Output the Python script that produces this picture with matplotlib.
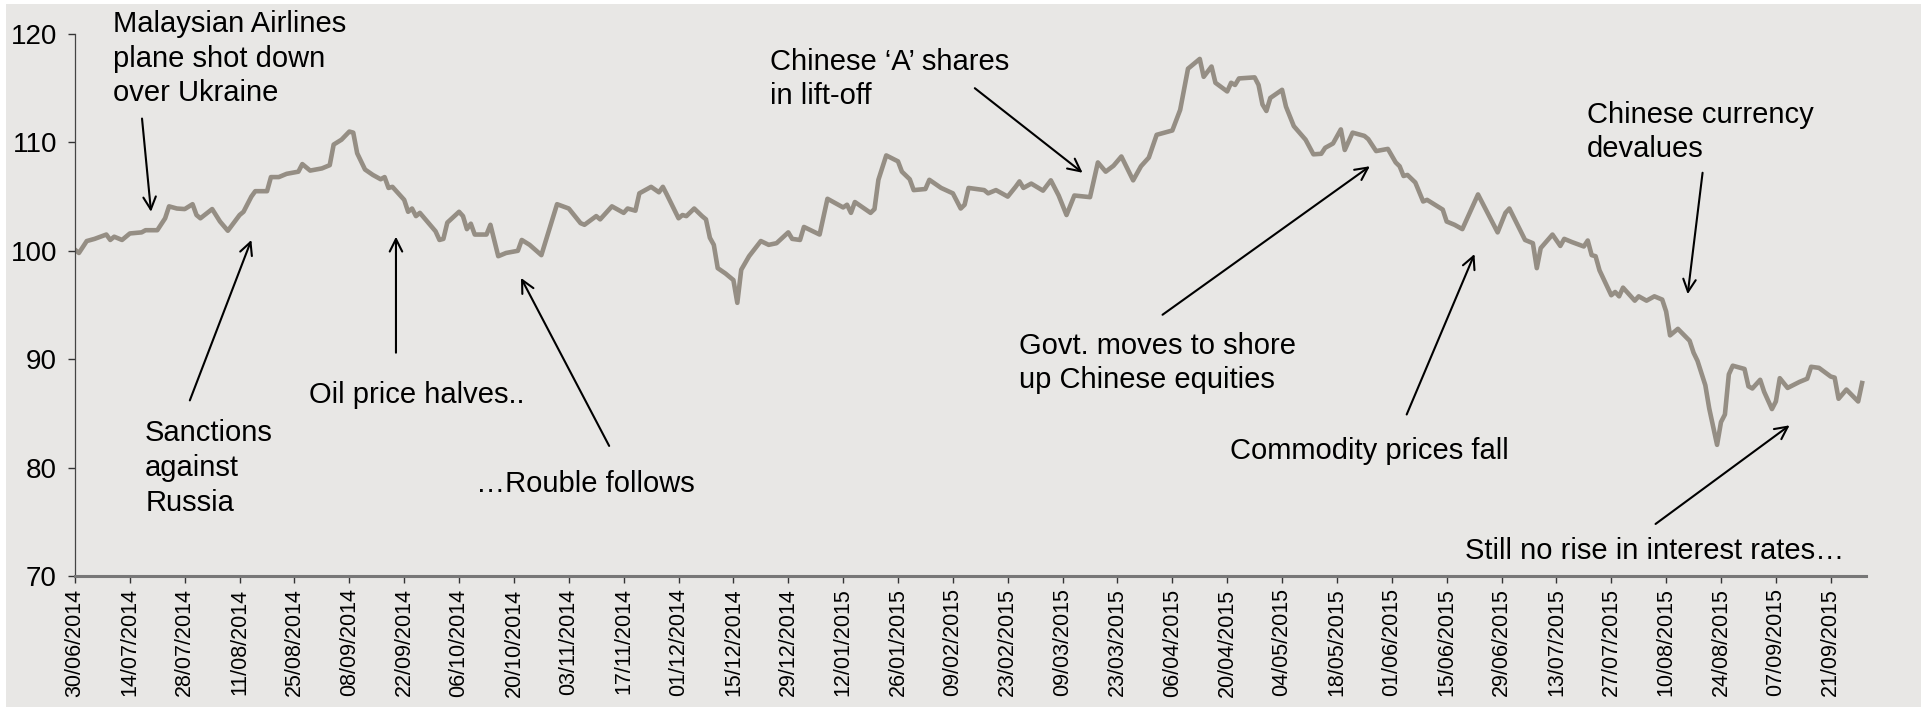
import matplotlib
matplotlib.use("Agg")
import matplotlib.pyplot as plt
import matplotlib.dates as mdates
from matplotlib.patches import Rectangle
import pandas as pd

# index level, as days since 30/06/2014
start = pd.Timestamp("2014-06-30")
days = [0, 1, 3, 5, 8, 9, 10, 12, 14, 17, 18, 21, 23, 24, 26, 28, 30, 31, 32, 35,
        37, 39, 42, 43, 45, 46, 49, 50, 52, 54, 57, 58, 60, 63, 65, 66, 68, 70, 71, 72,
        74, 76, 78, 79, 80, 81, 84, 85, 86, 87, 88, 92, 93, 94, 95, 98, 99, 100, 101, 102,
        105, 106, 108, 110, 113, 114, 116, 119, 123, 126, 129, 130, 133, 134, 137, 140, 141, 143, 144, 147,
        149, 150, 151, 154, 155, 156, 158, 160, 161, 162, 163, 164, 166, 168, 169, 170, 172, 175, 177, 179,
        182, 183, 185, 186, 190, 192, 196, 197, 198, 199, 203, 204, 205, 207, 210, 211, 213, 214, 217, 218,
        221, 224, 226, 227, 228, 232, 233, 235, 238, 240, 241, 242, 244, 247, 249, 251, 253, 255, 259, 261,
        263, 265, 267, 270, 272, 274, 276, 280, 282, 284, 287, 288, 290, 291, 294, 295, 296, 297, 301, 302,
        303, 304, 305, 308, 309, 311, 314, 316, 318, 319, 321, 323, 324, 326, 329, 330, 332, 335, 337, 338,
        339, 340, 342, 344, 345, 349, 350, 352, 354, 358, 363, 365, 366, 370, 372, 373, 374, 377, 379, 380,
        382, 385, 386, 387, 388, 389, 392, 393, 394, 395, 398, 399, 401, 403, 405, 406, 407, 409, 412, 413,
        414, 416, 417, 419, 420, 421, 422, 423, 426, 427, 428, 430, 431, 433, 434, 435, 437, 440, 442, 443,
        445, 448, 449, 450, 452, 455, 456]
values = [100.1, 99.8, 100.9, 101.1, 101.5, 101.0, 101.3, 101.0, 101.6, 101.7, 101.9, 101.9, 103.0, 104.1, 103.9, 103.85, 104.3, 103.3, 103.0, 103.85,
          102.7, 101.85, 103.3, 103.6, 105.0, 105.5, 105.5, 106.8, 106.8, 107.1, 107.3, 108.0, 107.4, 107.6, 107.9, 109.8, 110.25, 111.0, 110.9, 109.0,
          107.5, 107.0, 106.6, 106.8, 105.8, 105.9, 104.7, 103.6, 103.9, 103.2, 103.5, 101.8, 101.0, 101.1, 102.6, 103.6, 103.2, 102.0, 102.5, 101.5,
          101.5, 102.4, 99.5, 99.8, 100.0, 101.0, 100.55, 99.6, 104.3, 103.9, 102.55, 102.4, 103.2, 102.9, 104.1, 103.5, 103.9, 103.7, 105.3, 105.9,
          105.4, 105.9, 105.2, 103.0, 103.3, 103.2, 103.9, 103.2, 102.9, 101.2, 100.55, 98.4, 97.9, 97.3, 95.2, 98.25, 99.5, 100.9, 100.55, 100.7,
          101.7, 101.1, 101.0, 102.2, 101.5, 104.8, 104.0, 104.25, 103.5, 104.5, 103.5, 103.85, 106.55, 108.8, 108.25, 107.3, 106.6, 105.6, 105.7, 106.55,
          105.8, 105.3, 103.9, 104.25, 105.8, 105.6, 105.3, 105.6, 105.0, 105.9, 106.4, 105.8, 106.2, 105.55, 106.5, 105.1, 103.3, 105.1, 104.95, 108.15,
          107.3, 107.85, 108.7, 106.5, 107.8, 108.6, 110.7, 111.1, 113.0, 116.8, 117.7, 116.05, 117.0, 115.5, 114.7, 115.5, 115.3, 115.9, 116.0, 115.3,
          113.5, 112.9, 114.1, 114.85, 113.3, 111.5, 110.25, 108.9, 108.95, 109.5, 109.9, 111.2, 109.3, 110.9, 110.6, 110.3, 109.2, 109.4, 108.15, 107.8,
          106.9, 107.0, 106.3, 104.55, 104.7, 103.8, 102.7, 102.4, 102.0, 105.2, 101.7, 103.5, 103.9, 101.0, 100.7, 98.4, 100.25, 101.5, 100.45, 101.1,
          100.8, 100.4, 100.95, 99.6, 99.5, 98.2, 95.9, 96.2, 95.8, 96.6, 95.4, 95.8, 95.4, 95.8, 95.5, 94.4, 92.2, 92.8, 91.7, 90.6,
          89.85, 87.6, 85.45, 82.1, 84.2, 84.9, 88.6, 89.4, 89.1, 87.5, 87.3, 88.1, 87.0, 85.4, 86.1, 88.25, 87.35, 87.9, 88.2, 89.3,
          89.2, 88.4, 88.3, 86.35, 87.2, 86.1, 87.8]

dates = start + pd.to_timedelta(days, unit="D")
tick_dates = pd.date_range("2014-06-30", "2015-09-21", freq="14D")


def d(n):
    # date n days after the start, used to place the notes
    return start + pd.Timedelta(days=n)


bg = "#e8e7e5"
fig = plt.figure(figsize=(19.23, 7.13), dpi=100)
# grey card with a thin white border round it
card = Rectangle((6 / 1923, 6 / 713), 1915 / 1923, 703 / 713,
                 transform=fig.transFigure, facecolor=bg, edgecolor="none", zorder=-10)
fig.patches.append(card)
ax = fig.add_axes([75 / 1923, 137 / 713, 1791 / 1923, 542 / 713])
ax.set_facecolor(bg)

ax.plot(dates, values, color="#958e84", lw=3.3, solid_joinstyle="round")

ax.set_xlim(d(0), d(457))
ax.set_ylim(70, 120)
ax.set_yticks(range(70, 121, 10))
ax.set_xticks(tick_dates)
ax.xaxis.set_major_formatter(mdates.DateFormatter("%d/%m/%Y"))
for lab in ax.get_xticklabels():
    lab.set_rotation(90)
    lab.set_fontsize(15.5)
    lab.set_family("Liberation Sans")
for lab in ax.get_yticklabels():
    lab.set_fontsize(20)
    lab.set_family("Liberation Sans")
ax.tick_params(axis="x", direction="out", length=5, width=1, color="#333333", pad=4)
ax.tick_params(axis="y", direction="out", length=5, width=1, color="#333333", pad=8)

ax.spines["top"].set_visible(False)
ax.spines["right"].set_visible(False)
ax.spines["left"].set_color("#444444")
ax.spines["left"].set_linewidth(0.9)
ax.spines["bottom"].set_color("#777777")
ax.spines["bottom"].set_linewidth(2.2)

font = dict(fontsize=21, family="Liberation Sans", color="black", linespacing=1.3)
arrow = dict(arrowstyle="->,head_length=0.9,head_width=0.45", color="black", lw=1.5,
             shrinkA=0, shrinkB=0)

# notes: (text, text pos, alignment, arrow tail, arrow head)
notes = [
    ("Malaysian Airlines\nplane shot down\nover Ukraine", (9.7, 122.2), "top", (17.1, 112.2), (19.4, 103.6)),
    ("Sanctions\nagainst\nRussia", (17.9, 84.45), "top", (29.3, 86.2), (45.0, 101.0)),
    ("Oil price halves..", (59.7, 86.7), "center", (81.9, 90.6), (81.9, 101.3)),
    ("\u2026Rouble follows", (102.3, 78.5), "center", (136.3, 82.0), (113.8, 97.5)),
    ("Chinese \u2018A\u2019 shares\nin lift-off", (177.3, 118.75), "top", (229.6, 115.0), (257.1, 107.2)),
    ("Govt. moves to shore\nup Chinese equities", (240.8, 92.55), "top", (277.5, 94.1), (330.4, 107.8)),
    ("Commodity prices fall", (294.6, 81.5), "center", (339.8, 84.9), (357.1, 99.7)),
    ("Chinese currency\ndevalues", (385.7, 113.85), "top", (415.3, 107.2), (411.5, 96.0)),
    ("Still no rise in interest rates\u2026", (354.8, 72.3), "center", (403.3, 74.8), (437.5, 83.9)),
]
for txt, (tx, ty), va, (ax0, ay0), (ax1, ay1) in notes:
    ax.text(d(tx), ty, txt, ha="left", va=va, **font)
    ax.annotate("", xy=(d(ax1), ay1), xytext=(d(ax0), ay0), arrowprops=arrow)

fig.savefig("out.png", dpi=100, facecolor="white")
